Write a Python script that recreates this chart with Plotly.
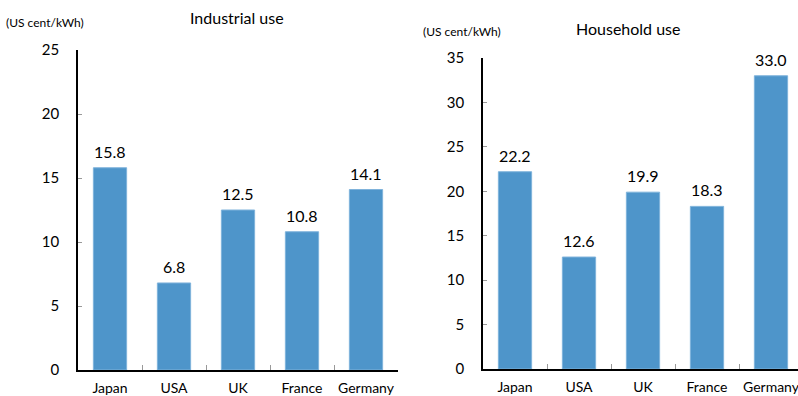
import plotly.graph_objects as go

countries = ["Japan", "USA", "UK", "France", "Germany"]
industrial = [15.8, 6.8, 12.5, 10.8, 14.1]
household = [22.2, 12.6, 19.9, 18.3, 33.0]
unit_label = "(US cent/kWh)"
titles = ["Industrial use", "Household use"]

W, H = 798, 396
FONT = "Lato, Carlito, sans-serif"
BAR = "#4E95CA"

fig = go.Figure()
fig.add_trace(go.Bar(x=countries, y=industrial, xaxis="x", yaxis="y",
                     marker=dict(color=BAR, line=dict(color="#7FB3DB", width=1)), width=0.52))
fig.add_trace(go.Bar(x=countries, y=household, xaxis="x2", yaxis="y2",
                     marker=dict(color=BAR, line=dict(color="#7FB3DB", width=1)), width=0.52))

for vals, xr, yr in [(industrial, "x", "y"), (household, "x2", "y2")]:
    for c, v in zip(countries, vals):
        fig.add_annotation(x=c, y=v, xref=xr, yref=yr, text=f"{v:.1f}", showarrow=False,
                           yanchor="bottom", yshift=5, font=dict(size=16, color="#000", family=FONT))

xcommon = dict(type="category", showline=True, linecolor="#000", linewidth=1.5,
               ticks="inside", tickson="boundaries", ticklen=5, tickcolor="#999",
               tickfont=dict(size=14, color="#000", family=FONT), showgrid=False,
               tickangle=0, ticklabelstandoff=4, automargin=False, fixedrange=True)
ycommon = dict(showline=True, linecolor="#000", linewidth=1.5, ticks="inside", ticklen=4,
               tickcolor="#999", tickfont=dict(size=15, color="#000", family=FONT),
               showgrid=False, zeroline=False, ticklabelstandoff=14, automargin=False,
               fixedrange=True)

left_x0, left_x1 = 78, 398
right_x0 = 483
cw = 64
fig.update_layout(
    width=W, height=H, margin=dict(l=0, r=0, t=0, b=0, pad=0, autoexpand=False),
    paper_bgcolor="white", plot_bgcolor="white", showlegend=False,
    xaxis=dict(domain=[left_x0 / W, left_x1 / W], range=[-0.5, 4.5], anchor="y", **xcommon),
    yaxis=dict(domain=[(H - 370) / H, (H - 50) / H], range=[0, 25], dtick=5, anchor="x", **ycommon),
    xaxis2=dict(domain=[right_x0 / W, 1], range=[-0.5, -0.5 + (W - right_x0) / cw], anchor="y2", **xcommon),
    yaxis2=dict(domain=[(H - 369) / H, (H - 58) / H], range=[0, 35], dtick=5, anchor="x2", **ycommon),
)

def label(x, y, text, size):
    fig.add_annotation(x=x / W, y=1 - y / H, xref="paper", yref="paper", text=text,
                       showarrow=False, xanchor="center", yanchor="middle",
                       font=dict(size=size, color="#000", family=FONT))

label(237, 18, titles[0], 16)
label(628, 28, titles[1], 16)
label(45, 22, unit_label, 12)
label(462, 32, unit_label, 12)

fig.write_html("out.html")
